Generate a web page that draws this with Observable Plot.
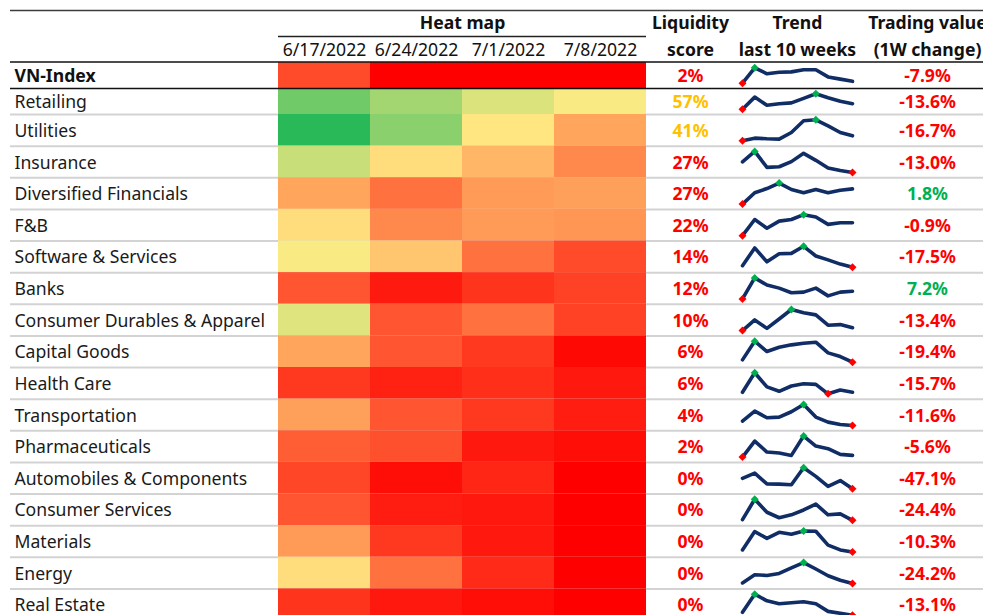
<!DOCTYPE html>
<html><head><meta charset="utf-8">
<script src="https://cdn.jsdelivr.net/npm/d3@7"></script>
<script src="https://cdn.jsdelivr.net/npm/@observablehq/plot@0.6"></script>
<style>html,body{margin:0;padding:0;background:#fff;overflow:hidden}</style>
</head><body><div id="chart"></div>
<script>
// ---- data ----
const sectors = ["VN-Index","Retailing","Utilities","Insurance","Diversified Financials","F&B","Software & Services","Banks","Consumer Durables & Apparel","Capital Goods","Health Care","Transportation","Pharmaceuticals","Automobiles & Components","Consumer Services","Materials","Energy","Real Estate"];
const dates = ["6/17/2022","6/24/2022","7/1/2022","7/8/2022"];
// heat map scores (0 = red, 50 = yellow, 100 = green)
const heat0617 = [16, 78, 92, 61, 35, 47, 51, 18, 56, 35, 12, 34, 20, 15, 18, 33, 47, 11];
const heat0624 = [0, 68, 73, 47, 24, 29, 42, 5.5, 18, 18, 7, 18, 17, 3, 6, 12, 24, 5];
const heat0701 = [0, 57, 49, 39, 33, 33, 24, 11, 24, 12, 10, 12, 5, 8, 5, 5, 9, 3];
const heat0708 = [0, 51, 35, 29, 34, 32, 16, 14, 14, 2, 5, 6, 3, 0, 0, 0, 0, 0];
const liquidity = [2, 57, 41, 27, 27, 22, 14, 12, 10, 6, 6, 4, 2, 0, 0, 0, 0, 0];
const tradingChange = [-7.9, -13.6, -16.7, -13.0, 1.8, -0.9, -17.5, 7.2, -13.4, -19.4, -15.7, -11.6, -5.6, -47.1, -24.4, -10.3, -24.2, -13.1];
const trendVNIndex = [32, 81, 62, 67, 68, 75, 75, 52, 45, 38];
const trendRetailing = [52, 92, 65, 70, 73, 88, 103, 90, 78, 70];
const trendUtilities = [60, 68, 66, 65, 85, 120, 123, 105, 85, 75];
const trendInsurance = [97, 130, 80, 82, 98, 124, 102, 78, 70, 64];
const trendDiversified = [15, 50, 63, 80, 60, 50, 60, 50, 58, 62];
const trendFB = [20, 70, 43, 65, 70, 85, 78, 55, 60, 60];
const trendSoftware = [30, 85, 42, 67, 68, 90, 60, 48, 35, 25];
const trendBanks = [30, 98, 75, 65, 50, 52, 65, 40, 52, 55];
const trendConsDurables = [8, 42, 15, 45, 75, 65, 58, 25, 27, 17];
const trendCapitalGoods = [22, 78, 47, 60, 67, 72, 75, 43, 32, 15];
const trendHealthCare = [25, 87, 42, 28, 45, 52, 50, 20, 32, 25];
const trendTransportation = [40, 70, 50, 52, 68, 90, 52, 37, 30, 27];
const trendPharma = [5, 53, 20, 17, 10, 68, 38, 30, 13, 10];
const trendAutos = [42, 58, 25, 24, 22, 75, 48, 17, 35, 10];
const trendConsServices = [17, 80, 40, 23, 32, 47, 65, 32, 35, 15];
const trendMaterials = [28, 82, 62, 80, 74, 84, 83, 42, 28, 22];
const trendEnergy = [4, 28, 26, 32, 48, 64, 45, 25, 12, 2];
const trendRealEstate = [8, 27, 20, 17, 18, 19, 17, 9, 7, 5];
const trends = [trendVNIndex, trendRetailing, trendUtilities, trendInsurance, trendDiversified, trendFB, trendSoftware, trendBanks, trendConsDurables, trendCapitalGoods, trendHealthCare, trendTransportation, trendPharma, trendAutos, trendConsServices, trendMaterials, trendEnergy, trendRealEstate];
const headerTop = ["Heat map", "Liquidity", "Trend", "Trading value"];
const headerBottom = ["score", "last 10 weeks", "(1W change)"];

// ---- layout ----
const W = 983, H = 615;
const L = {
  left: 10, labelX: 14,
  heatX0: 278, heatW: 92,
  liqX: 690, trendX0: 742, trendX1: 852, tvX: 927,
  headTopY: 10, heatLineY: 36, headBottomY: 61.5,
  rowY0: 62, smallRowH: 26, rowH: 31.625
};
const rowTop = i => i < 2 ? L.rowY0 + i * L.smallRowH : L.rowY0 + 2 * L.smallRowH + (i - 2) * L.rowH;
const rowBottom = i => i < 2 ? rowTop(i) + L.smallRowH : rowTop(i) + L.rowH;
const rowMid = i => (rowTop(i) + rowBottom(i)) / 2;

const heatCols = [heat0617, heat0624, heat0701, heat0708];
const rows = sectors.map((s, i) => ({s, i, liq: liquidity[i], tv: tradingChange[i]}));
const cells = [];
heatCols.forEach((col, j) => col.forEach((v, i) => cells.push({i, j, v, date: dates[j]})));

const trendPts = [];
const extremes = [];
trends.forEach((arr, i) => {
  const mn = d3.min(arr), mx = d3.max(arr);
  const h = rowBottom(i) - rowTop(i) - 10.6;
  const pos = (v, k) => ({
    s: sectors[i],
    x: L.trendX0 + k * (L.trendX1 - L.trendX0) / (arr.length - 1),
    y: rowBottom(i) - 5.3 - (v - mn) / (mx - mn) * h
  });
  arr.forEach((v, k) => trendPts.push(pos(v, k)));
  extremes.push({...pos(mx, arr.indexOf(mx)), kind: "max"});
  extremes.push({...pos(mn, arr.indexOf(mn)), kind: "min"});
});

const font = 17.6;
const chart = Plot.plot({
  width: W, height: H, margin: 0,
  x: {domain: [0, W], range: [0, W], axis: null},
  y: {domain: [0, H], range: [0, H], axis: null},
  color: {type: "linear", domain: [0, 50, 100], range: ["#ff0000", "#ffeb84", "#00b050"], interpolate: "rgb"},
  style: {fontFamily: "'Noto Sans', 'Open Sans', sans-serif", background: "#fff", overflow: "hidden"},
  marks: [
    // light row separators
    Plot.ruleY(rows.filter(d => d.i >= 1 && d.i < rows.length - 1), {y: d => rowBottom(d.i), x1: L.left, x2: W, stroke: "#d3d3d3", strokeWidth: 2}),
    // heat map
    Plot.rect(cells, {
      x1: d => L.heatX0 + d.j * L.heatW, x2: d => L.heatX0 + (d.j + 1) * L.heatW,
      y1: d => rowTop(d.i), y2: d => rowBottom(d.i), fill: "v"
    }),
    // dark rules
    Plot.ruleY([L.headTopY], {x1: L.left, x2: W, stroke: "#3c3c3c", strokeWidth: 1.5}),
    Plot.ruleY([L.heatLineY], {x1: L.heatX0, x2: L.heatX0 + 4 * L.heatW, stroke: "#222", strokeWidth: 1.5}),
    Plot.ruleY([L.headBottomY], {x1: L.left, x2: W, stroke: "#111", strokeWidth: 1.5}),
    Plot.ruleY([rowBottom(0)], {x1: L.left, x2: W, stroke: "#111", strokeWidth: 1.5}),
    // sparklines
    Plot.line(trendPts, {x: "x", y: "y", z: "s", stroke: "#112d66", strokeWidth: 3.6, strokeLinejoin: "round", strokeLinecap: "round"}),
    Plot.dot(extremes.filter(d => d.kind === "max"), {x: "x", y: "y", symbol: "diamond2", r: 3.6, fill: "#00b050", stroke: "none"}),
    Plot.dot(extremes.filter(d => d.kind === "min"), {x: "x", y: "y", symbol: "diamond2", r: 3.6, fill: "#ff0000", stroke: "none"}),
    // header
    Plot.text([headerTop[0]], {x: L.heatX0 + 2 * L.heatW, y: 22.5, text: d => d, fontSize: font, fontWeight: "bold", fill: "#111"}),
    Plot.text(dates, {x: (d, j) => L.heatX0 + (j + 0.5) * L.heatW, y: 49.5, text: d => d, fontSize: font, fill: "#111"}),
    Plot.text(headerTop.slice(1), {x: (d, j) => [L.liqX, (L.trendX0 + L.trendX1) / 2, L.tvX][j], y: 22.5, text: d => d, fontSize: font, fontWeight: "bold", fill: "#111"}),
    Plot.text(headerBottom, {x: (d, j) => [L.liqX, (L.trendX0 + L.trendX1) / 2, L.tvX][j], y: 49.5, text: d => d, fontSize: font, fontWeight: "bold", fill: "#111"}),
    // row labels
    Plot.text(rows.filter(d => d.i === 0), {x: L.labelX, y: d => rowMid(d.i) + 1, text: "s", textAnchor: "start", fontSize: font, fontWeight: "bold", fill: "#111"}),
    Plot.text(rows.filter(d => d.i > 0), {x: L.labelX, y: d => rowMid(d.i) + 1, text: "s", textAnchor: "start", fontSize: font, fill: "#1a1a1a"}),
    // liquidity score
    Plot.text(rows.filter(d => d.liq >= 30), {x: L.liqX, y: d => rowMid(d.i) + 1, text: d => d.liq + "%", fontSize: font, fontWeight: "bold", fill: "#ffc000"}),
    Plot.text(rows.filter(d => d.liq < 30), {x: L.liqX, y: d => rowMid(d.i) + 1, text: d => d.liq + "%", fontSize: font, fontWeight: "bold", fill: "#ff0000"}),
    // trading value change
    Plot.text(rows.filter(d => d.tv >= 0), {x: L.tvX, y: d => rowMid(d.i) + 1, text: d => d.tv.toFixed(1) + "%", fontSize: font, fontWeight: "bold", fill: "#00b050"}),
    Plot.text(rows.filter(d => d.tv < 0), {x: L.tvX, y: d => rowMid(d.i) + 1, text: d => d.tv.toFixed(1) + "%", fontSize: font, fontWeight: "bold", fill: "#ff0000"})
  ]
});
document.getElementById("chart").append(chart);
</script>
</body></html>
